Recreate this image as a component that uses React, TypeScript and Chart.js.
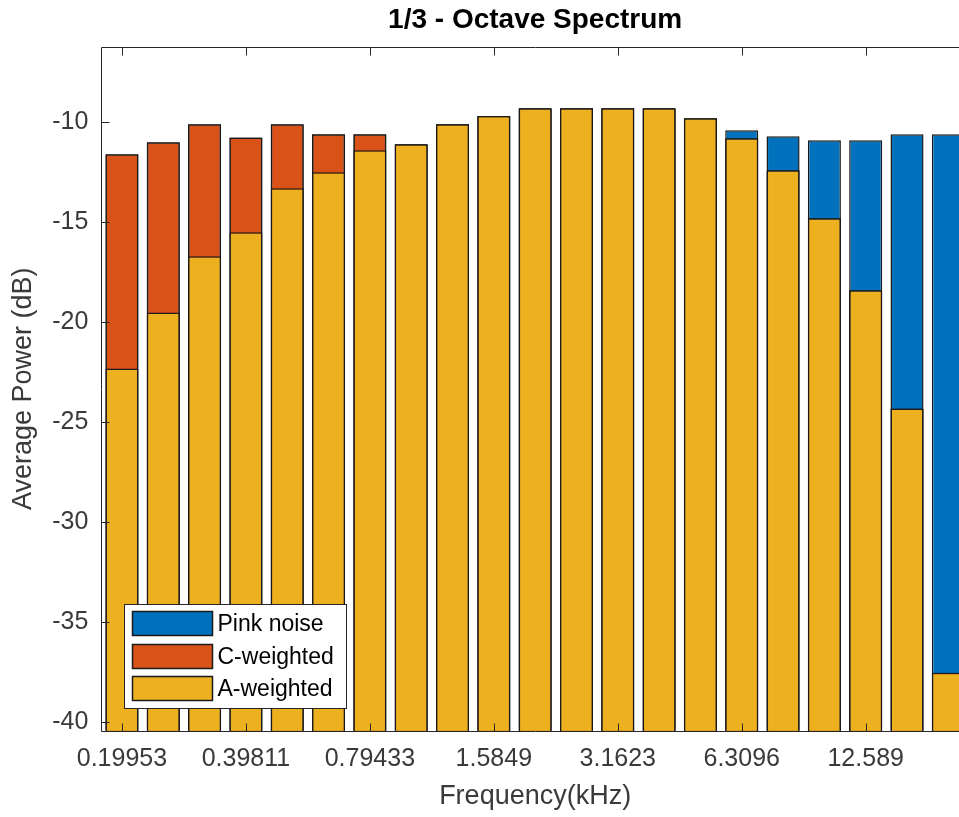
import React, { useEffect, useRef } from 'react';
import { Chart, registerables } from 'chart.js';

Chart.register(...registerables);

// ---- data ----
const frequencies = [
  '0.19953', '0.25119', '0.31623', '0.39811', '0.50119', '0.63096', '0.79433',
  '1', '1.2589', '1.5849', '1.9953', '2.5119', '3.1623', '3.9811', '5.0119',
  '6.3096', '7.9433', '10', '12.589', '15.849', '19.953',
];
const xTickLabels = ['0.19953', '0.39811', '0.79433', '1.5849', '3.1623', '6.3096', '12.589'];
const yTickValues = [-40, -35, -30, -25, -20, -15, -10];

const pinkNoise = [
  -11.62, -11.02, -10.12, -10.78, -10.12, -10.62, -10.62, -11.12, -10.12, -9.7, -9.32,
  -9.32, -9.32, -9.32, -9.82, -10.42, -10.72, -10.92, -10.92, -10.62, -10.62,
];
const cWeighted = [
  -11.62, -11.02, -10.12, -10.78, -10.12, -10.62, -10.62, -11.12, -10.12, -9.7, -9.32,
  -9.32, -9.32, -9.32, -9.82, -10.82, -12.42, -14.82, -18.42, -24.32, -37.53,
];
const aWeighted = [
  -22.32, -19.52, -16.72, -15.52, -13.32, -12.52, -11.42, -11.12, -10.12, -9.7, -9.32,
  -9.32, -9.32, -9.32, -9.82, -10.82, -12.42, -14.82, -18.42, -24.32, -37.53,
];

const seriesNames = ['Pink noise', 'C-weighted', 'A-weighted'];
const seriesColors = ['#0072BD', '#D95319', '#EDB120'];

const FONT = "'Liberation Sans', Arial, Helvetica, sans-serif";
const AXIS_COLOR = '#262626';

const framePlugin = {
  id: 'matlabFrame',
  afterDatasetsDraw(chart: any) {
    const { ctx, chartArea, scales } = chart;
    const { left, right, top, bottom } = chartArea;
    const x = scales.x;
    const y = scales.y;
    const L = Math.round(left) + 0.5;
    const R = Math.round(right) + 0.5;
    const T = Math.round(top) + 0.5;
    const B = Math.round(bottom) + 0.5;
    const tl = 8;
    ctx.save();
    ctx.strokeStyle = AXIS_COLOR;
    ctx.lineWidth = 1;
    ctx.beginPath();
    ctx.rect(L, T, R - L, B - T);
    frequencies.forEach((f, i) => {
      if (!xTickLabels.includes(f)) return;
      const px = Math.round(x.getPixelForValue(i)) + 0.5;
      ctx.moveTo(px, B);
      ctx.lineTo(px, B - tl);
      ctx.moveTo(px, T);
      ctx.lineTo(px, T + tl);
    });
    yTickValues.forEach((v) => {
      const py = Math.round(y.getPixelForValue(v)) + 0.5;
      ctx.moveTo(L, py);
      ctx.lineTo(L + tl, py);
      ctx.moveTo(R, py);
      ctx.lineTo(R - tl, py);
    });
    ctx.stroke();

    // legend (southwest)
    const boxW = 222;
    const boxH = 104;
    const bx = Math.round(left + 22.7) + 0.5;
    const by = Math.round(bottom - 22.7 - boxH) + 0.5;
    ctx.fillStyle = '#ffffff';
    ctx.fillRect(bx, by, boxW, boxH);
    ctx.strokeStyle = AXIS_COLOR;
    ctx.strokeRect(bx, by, boxW, boxH);
    const rowTops = [7, 40, 72];
    ctx.font = `23px ${FONT}`;
    ctx.textBaseline = 'middle';
    ctx.textAlign = 'left';
    seriesNames.forEach((name, i) => {
      const sy = by + rowTops[i];
      ctx.fillStyle = seriesColors[i];
      ctx.fillRect(bx + 8, sy, 80, 24);
      ctx.strokeStyle = '#1a1a1a';
      ctx.lineWidth = 1.5;
      ctx.strokeRect(bx + 8, sy, 80, 24);
      ctx.fillStyle = '#000';
      ctx.fillText(name, bx + 93, sy + 13);
    });
    ctx.restore();
  },
};

export default function App() {
  const canvasRef = useRef<HTMLCanvasElement | null>(null);

  useEffect(() => {
    if (!canvasRef.current) return;
    Chart.defaults.font.family = FONT;
    const values = [pinkNoise, cWeighted, aWeighted];
    const chart = new Chart(canvasRef.current, {
      type: 'bar',
      data: {
        labels: frequencies,
        datasets: seriesNames.map((name, i) => ({
          label: name,
          data: values[i],
          backgroundColor: seriesColors[i],
          borderColor: '#1a1a1a',
          borderWidth: 1.5,
          base: -45,
          grouped: false,
          order: 2 - i,
          barPercentage: 0.8,
          categoryPercentage: 1,
          clip: 0,
        })),
      },
      options: {
        animation: false,
        responsive: false,
        devicePixelRatio: 1,
        events: [],
        layout: { padding: { left: 0, right: 11, top: 0, bottom: 0 } },
        plugins: {
          legend: { display: false },
          tooltip: { enabled: false },
          title: {
            display: true,
            text: '1/3 - Octave Spectrum',
            color: '#000000',
            fullSize: false,
            font: { family: FONT, size: 28, weight: 'bold', lineHeight: 1.2 },
            padding: { top: 3.2, bottom: 9.9 },
          },
        },
        scales: {
          x: {
            type: 'category',
            offset: true,
            grid: { display: false, drawTicks: false },
            border: { display: false },
            ticks: {
              autoSkip: false,
              maxRotation: 0,
              minRotation: 0,
              padding: 13,
              color: '#3a3a3a',
              font: { family: FONT, size: 25 },
              callback: (_v: any, i: number) =>
                xTickLabels.includes(frequencies[i]) ? frequencies[i] : '',
            },
            title: {
              display: true,
              text: 'Frequency(kHz)',
              color: '#3a3a3a',
              font: { family: FONT, size: 27 },
              padding: { top: 0, bottom: 3.8 },
            },
            afterFit: (s: any) => {
              s.height = 86.3;
            },
          },
          y: {
            min: -40.43,
            max: -6.24,
            grid: { display: false, drawTicks: false },
            border: { display: false },
            afterBuildTicks: (s: any) => {
              s.ticks = yTickValues.map((v) => ({ value: v }));
            },
            ticks: {
              padding: 13,
              color: '#3a3a3a',
              font: { family: FONT, size: 25 },
            },
            title: {
              display: true,
              text: 'Average Power (dB)',
              color: '#3a3a3a',
              font: { family: FONT, size: 27 },
              padding: { top: 7, bottom: 0 },
            },
            afterFit: (s: any) => {
              s.width = 101.3;
            },
          },
        },
      },
      plugins: [framePlugin],
    } as any);
    return () => chart.destroy();
  }, []);

  return (
    <div
      style={{
        position: 'fixed',
        left: 0,
        top: 0,
        width: '100vw',
        height: '100vh',
        overflow: 'hidden',
        background: '#ffffff',
      }}
    >
      <canvas
        ref={canvasRef}
        width={980}
        height={817}
        style={{ display: 'block', width: 980, height: 817 }}
      />
    </div>
  );
}
